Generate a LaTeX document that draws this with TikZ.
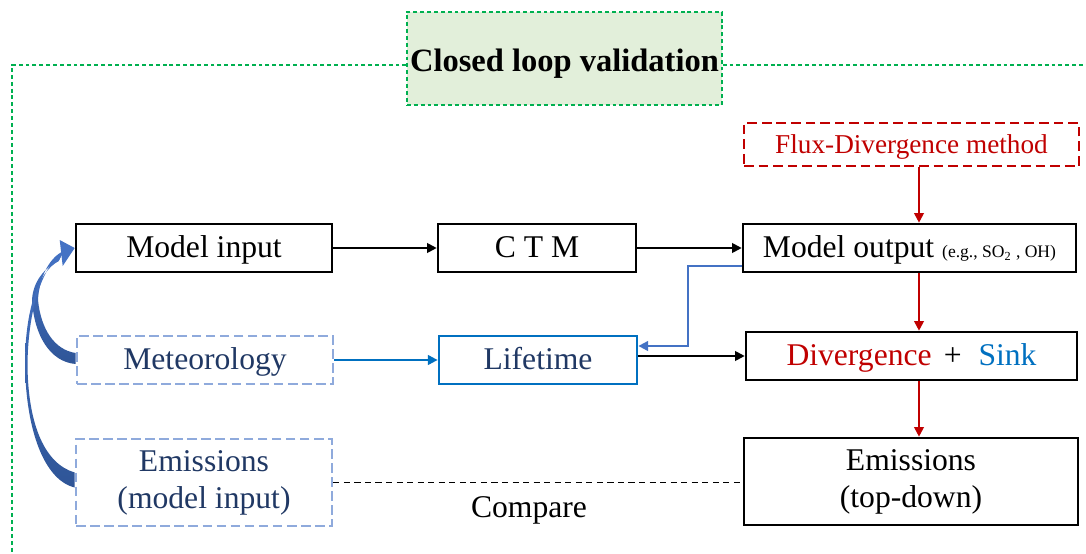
\documentclass[tikz,border=0pt]{standalone}
\usepackage{fontspec}
\setmainfont{Liberation Serif}
\usetikzlibrary{arrows.meta, positioning, calc}
\definecolor{loopgreen}{HTML}{00B050}
\definecolor{loopfill}{HTML}{E2EFDA}
\definecolor{darkred}{HTML}{C00000}
\definecolor{sinkblue}{HTML}{0070C0}
\definecolor{softblue}{HTML}{8FAADC}
\definecolor{navy}{HTML}{203864}
\definecolor{curveblue}{HTML}{4472C4}
\definecolor{curvedark}{HTML}{2F5597}
\def\leftw{5.12cm}
\def\midw{3.96cm}
\def\rightw{6.66cm}
\def\tallh{1.74cm}

\begin{document}
\begin{tikzpicture}[x=0.02cm, y=-0.02cm, font=\fontsize{18}{21}\selectfont,
    box/.style={draw=black, line width=1.5pt, inner sep=0pt, align=center, minimum height=0.96cm},
    onerow/.style={text height=11pt, text depth=0pt},
    inbox/.style={box, draw=softblue, dash pattern=on 5.5pt off 2.5pt, text=navy},
    fluxbox/.style={box, draw=darkred, dash pattern=on 5.5pt off 2.8pt, text=darkred, font=\fontsize{15.5}{18}\selectfont},
    titlebox/.style={draw=loopgreen, fill=loopfill, line width=0.8pt, dash pattern=on 2.2pt off 1.7pt, minimum width=6.3cm, minimum height=1.86cm, inner sep=0pt, text height=15pt, text depth=0pt, font=\fontsize{18.5}{21}\selectfont\bfseries},
    frame/.style={draw=loopgreen, line width=0.8pt, dash pattern=on 2.2pt off 1.7pt},
    flow/.style={line width=1.1pt, -{Triangle[length=5.5pt, width=5.5pt]}},
    metflow/.style={flow, draw=sinkblue, -{Triangle[length=5.5pt, width=5.5pt, fill=sinkblue]}},
    feedback/.style={flow, draw=curveblue, -{Triangle[length=5.5pt, width=5.5pt, fill=curveblue]}},
    redflow/.style={flow, draw=darkred, -{Triangle[length=5.5pt, width=5.5pt, fill=darkred]}},
    curvy/.style={top color=curveblue, bottom color=curvedark, draw=none}]
  \useasboundingbox (0,0) rectangle (1086,554);

  % closed loop frame
  \coordinate (frametop) at (12,65);
  \node[titlebox] (title) at (564.5,58.5) {Closed loop validation};
  \draw[frame] (title.west |- frametop) -- (frametop) -- (12,554);
  \draw[frame] (title.east |- frametop) -- (1086,65);

  % boxes
  \node[box, onerow, minimum width=\leftw] (min) at (204,248) {Model input};
  \node[box, onerow, minimum width=\midw] (ctm) at (537,248) {C T M};
  \node[box, onerow, minimum width=\rightw] (mout) at (909.5,248) {Model output {\fontsize{10}{12}\selectfont (e.g., SO\textsubscript{2} , OH)}};
  \node[fluxbox, text height=10pt, text depth=0pt, minimum width=6.7cm, minimum height=0.86cm] (flux) at (911.5,144.5) {Flux-Divergence method};
  \node[inbox, onerow, minimum width=\leftw] (met) at (205,360) {Meteorology};
  \node[box, onerow, draw=sinkblue, line width=1.6pt, text=navy, minimum width=\midw] (life) at (538,360) {Lifetime};
  \node[box, onerow, minimum width=6.62cm] (div) at (911.5,356) {\textcolor{darkred}{Divergence}\hspace{7pt}+\hspace{9.5pt}\textcolor{sinkblue}{Sink}};
  \node[inbox, minimum width=\leftw, minimum height=\tallh] (emi) at (204,482.5) {Emissions\\(model input)};
  \node[box, minimum width=6.68cm, minimum height=\tallh] (emt) at (911,481.5) {Emissions\\(top-down)};
  \node (cmp) at (529,510) {Compare};

  % connectors
  \draw[flow] (min) -- (ctm);
  \draw[flow] (ctm) -- (mout);
  \draw[metflow] (met) -- (life);
  \draw[flow] (div.west -| life.east) -- (div.west);
  \draw[feedback] ([yshift=-0.36cm]mout.west) -- ++(-54,0) |- ([yshift=0.28cm]life.east);
  \coordinate (redx) at (919,0);
  \draw[redflow] (flux.south -| redx) -- (mout.north -| redx);
  \draw[redflow] (mout.south -| redx) -- (div.north -| redx);
  \draw[redflow] (div.south -| redx) -- (emt.north -| redx);
  \draw[line width=1pt, dash pattern=on 3.5pt off 2.5pt] (emi.east) -- (emi.east -| emt.west);

  % curved arrows back to the model input
  \shade[curvy] ($(met.west)+(0,4)$) .. controls (50,362) and (34,335) .. (32,300)
    .. controls (33,282) and (44,268) .. ($(min.west)+(-16,13)$)
    -- ($(min.west)+(-11,3)$) .. controls (48,258) and (39,280) .. (38,300)
    .. controls (41,330) and (55,350) .. ($(met.west)+(0,-7)$) -- cycle;
  \shade[curvy] ($(emi.west)+(0,5)$) .. controls (44,480) and (26,430) .. (25,365)
    .. controls (25,310) and (38,272) .. ($(min.west)+(-16,13)$)
    -- ($(min.west)+(-11,3)$) .. controls (42,266) and (28,310) .. (27.5,365)
    .. controls (28,425) and (45,464) .. ($(emi.west)+(0,-10)$) -- cycle;
  \fill[curveblue] (min.west) -- ++(-15,-8) -- ++(3,26) -- cycle;
\end{tikzpicture}
\end{document}
